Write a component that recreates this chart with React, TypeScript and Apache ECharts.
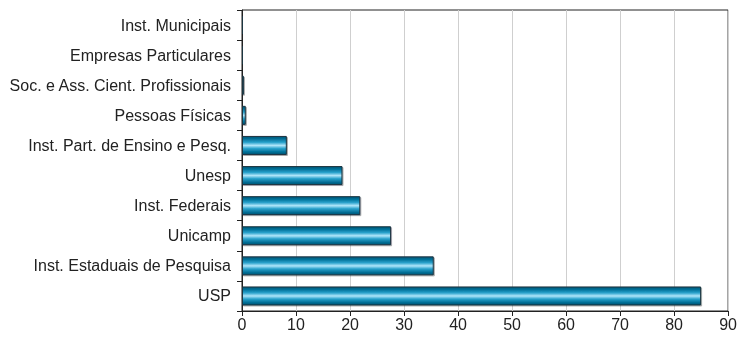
import React, { useEffect, useRef } from "react";
import * as echarts from "echarts";

const categories = [
  "USP",
  "Inst. Estaduais de Pesquisa",
  "Unicamp",
  "Inst. Federais",
  "Unesp",
  "Inst. Part. de Ensino e Pesq.",
  "Pessoas Físicas",
  "Soc. e Ass. Cient. Profissionais",
  "Empresas Particulares",
  "Inst. Municipais",
];
const values = [85.0, 35.5, 27.6, 21.9, 18.6, 8.3, 0.7, 0.35, 0.2, 0.2];
const xTicks = { min: 0, max: 90, interval: 10 };

export default function App() {
  const ref = useRef<HTMLDivElement>(null);
  useEffect(() => {
    if (!ref.current) return;
    const chart = echarts.init(ref.current, null, { renderer: "svg" });
    const barGradient = new echarts.graphic.LinearGradient(0, 0, 0, 1, [
      { offset: 0, color: "#005474" },
      { offset: 0.15, color: "#03729a" },
      { offset: 0.33, color: "#2aa2cc" },
      { offset: 0.5, color: "#b0e6fa" },
      { offset: 0.67, color: "#2aa2cc" },
      { offset: 0.85, color: "#03729a" },
      { offset: 1, color: "#005474" },
    ]);
    chart.setOption({
      animation: false,
      grid: {
        left: 242,
        right: 9,
        top: 10,
        bottom: 26,
        show: true,
        borderColor: "#222",
        borderWidth: 1,
      },
      xAxis: {
        type: "value",
        min: xTicks.min,
        max: xTicks.max,
        interval: xTicks.interval,
        axisLine: { show: true, lineStyle: { color: "#222", width: 1 } },
        axisTick: { show: true, length: 5, lineStyle: { color: "#222" } },
        axisLabel: {
          color: "#222",
          fontSize: 16,
          fontFamily: "Liberation Sans, Arial, sans-serif",
          margin: 5,
        },
        splitLine: { show: true, lineStyle: { color: "#cfcfcf", width: 1 } },
      },
      yAxis: {
        type: "category",
        data: categories,
        axisLine: { show: true, lineStyle: { color: "#222", width: 1 } },
        axisTick: { show: true, length: 5, lineStyle: { color: "#222" } },
        axisLabel: {
          color: "#222",
          fontSize: 16,
          fontFamily: "Liberation Sans, Arial, sans-serif",
          margin: 11,
        },
        splitLine: { show: false },
      },
      series: [
        {
          type: "bar",
          data: values,
          barWidth: 19,
          itemStyle: {
            color: barGradient,
            borderColor: "#1b3440",
            borderWidth: 1,
            shadowColor: "rgba(0,0,0,0.35)",
            shadowOffsetX: 1,
            shadowOffsetY: 1,
            shadowBlur: 1,
          },
        },
      ],
    });
    return () => chart.dispose();
  }, []);
  return (
    <div
      ref={ref}
      style={{ position: "fixed", left: 0, top: 0, width: 740, height: 337 }}
    />
  );
}
